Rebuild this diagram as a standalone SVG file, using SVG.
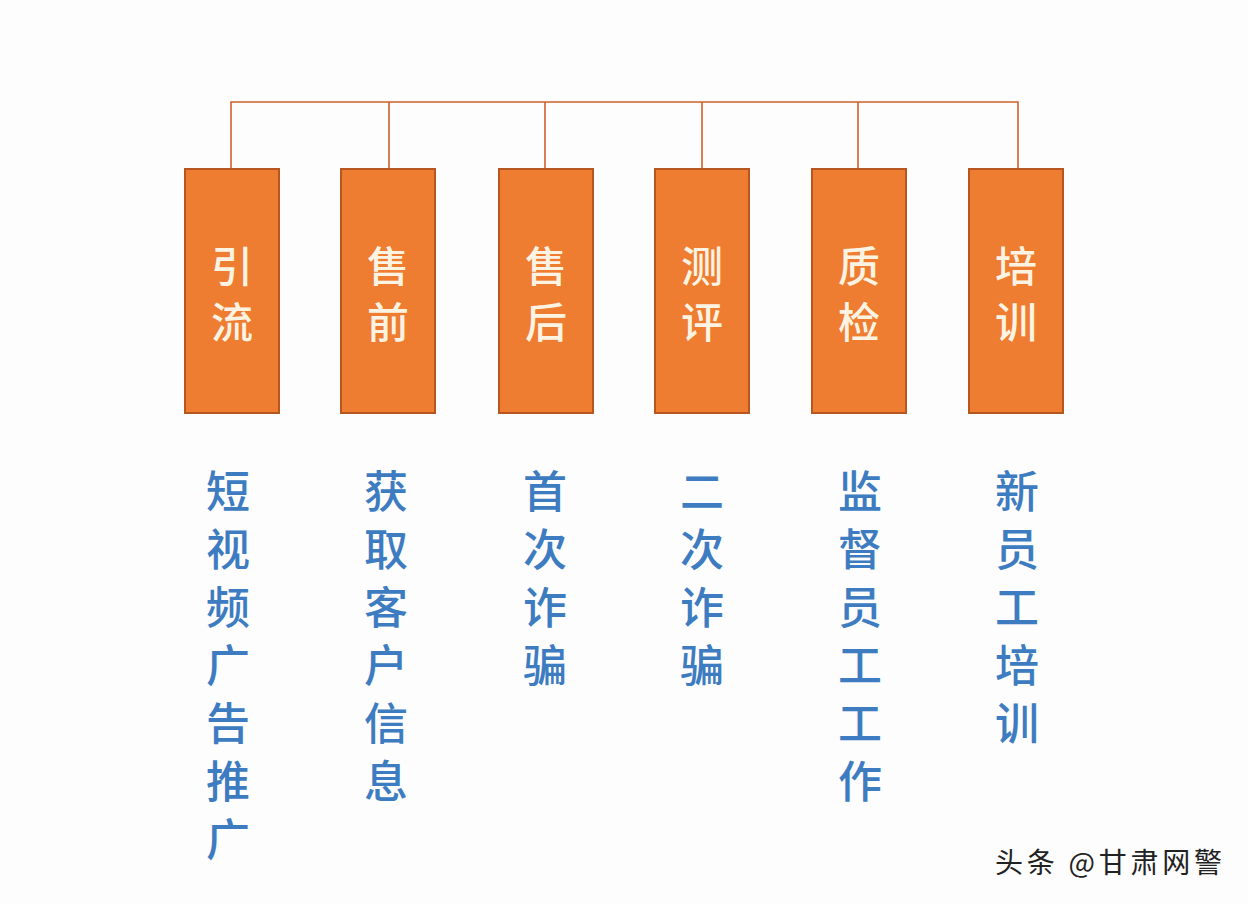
<svg xmlns="http://www.w3.org/2000/svg" width="1248" height="904" viewBox="0 0 1248 904">
<style>
.box{fill:#ee7d31;stroke:#b8561f;stroke-width:2}
.bt{font-family:"Noto Sans CJK SC","Noto Sans",sans-serif;font-size:42px;font-weight:500;fill:#fdf3e3;text-anchor:middle}
.lt{font-family:"Noto Sans CJK SC","Noto Sans",sans-serif;font-size:44px;font-weight:500;fill:#3d7cc0;text-anchor:middle}
.conn{stroke:#d0602a;stroke-width:1.6;fill:none}
</style>
<rect width="1248" height="904" fill="#fdfdfd"/>
<g id="connectors">
<path class="conn" d="M231 169V102H1018V169M389 102V169M545 102V169M702 102V169M858 102V169"/>
</g>
<g id="n1"><rect class="box" x="185" y="169" width="94" height="244"/><text class="bt" x="232" y="282">引</text><text class="bt" x="232" y="338">流</text></g>
<g id="n2"><rect class="box" x="341" y="169" width="94" height="244"/><text class="bt" x="388" y="282">售</text><text class="bt" x="388" y="338">前</text></g>
<g id="n3"><rect class="box" x="499" y="169" width="94" height="244"/><text class="bt" x="546" y="282">售</text><text class="bt" x="546" y="338">后</text></g>
<g id="n4"><rect class="box" x="655" y="169" width="94" height="244"/><text class="bt" x="702" y="282">测</text><text class="bt" x="702" y="338">评</text></g>
<g id="n5"><rect class="box" x="812" y="169" width="94" height="244"/><text class="bt" x="859" y="282">质</text><text class="bt" x="859" y="338">检</text></g>
<g id="n6"><rect class="box" x="969" y="169" width="94" height="244"/><text class="bt" x="1016" y="282">培</text><text class="bt" x="1016" y="338">训</text></g>
<g id="l1"><text class="lt" x="228" y="508">短</text><text class="lt" x="228" y="566">视</text><text class="lt" x="228" y="624">频</text><text class="lt" x="228" y="682">广</text><text class="lt" x="228" y="740">告</text><text class="lt" x="228" y="798">推</text><text class="lt" x="228" y="856">广</text></g>
<g id="l2"><text class="lt" x="386" y="508">获</text><text class="lt" x="386" y="566">取</text><text class="lt" x="386" y="624">客</text><text class="lt" x="386" y="682">户</text><text class="lt" x="386" y="740">信</text><text class="lt" x="386" y="798">息</text></g>
<g id="l3"><text class="lt" x="545" y="508">首</text><text class="lt" x="545" y="566">次</text><text class="lt" x="545" y="624">诈</text><text class="lt" x="545" y="682">骗</text></g>
<g id="l4"><text class="lt" x="702" y="508">二</text><text class="lt" x="702" y="566">次</text><text class="lt" x="702" y="624">诈</text><text class="lt" x="702" y="682">骗</text></g>
<g id="l5"><text class="lt" x="860" y="508">监</text><text class="lt" x="860" y="566">督</text><text class="lt" x="860" y="624">员</text><text class="lt" x="860" y="682">工</text><text class="lt" x="860" y="740">工</text><text class="lt" x="860" y="798">作</text></g>
<g id="l6"><text class="lt" x="1017" y="508">新</text><text class="lt" x="1017" y="566">员</text><text class="lt" x="1017" y="624">工</text><text class="lt" x="1017" y="682">培</text><text class="lt" x="1017" y="740">训</text></g>
<text x="995" y="873" font-family="'Noto Sans CJK SC',sans-serif" font-size="28" fill="#222" textLength="227" lengthAdjust="spacing">头条 @甘肃网警</text>
</svg>
